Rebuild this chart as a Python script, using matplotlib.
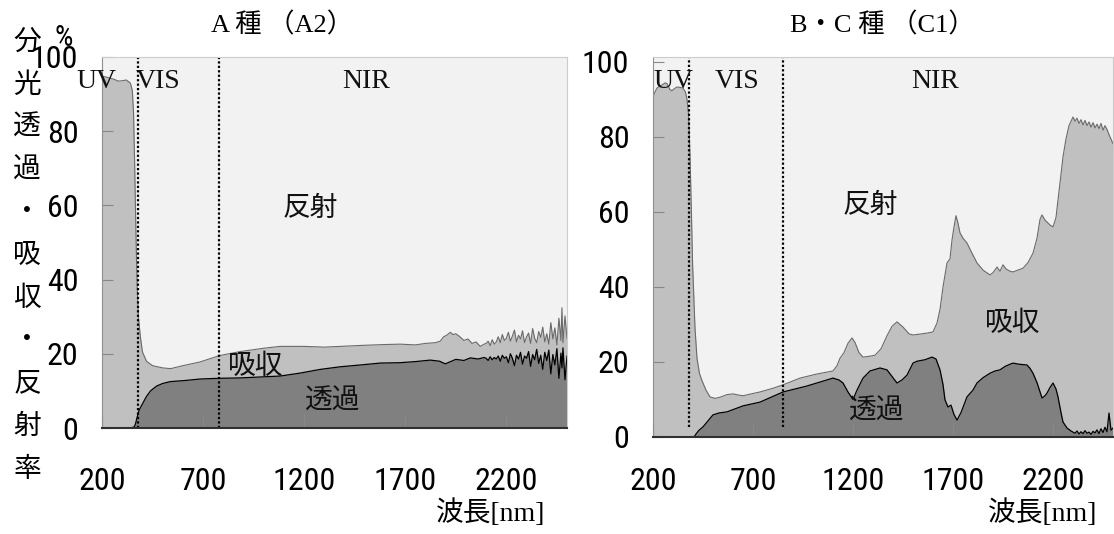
import os
import numpy as np
import matplotlib.pyplot as plt
from matplotlib import font_manager as fm

# ---- data ----
# A2 : upper edge = transmission + absorption, lower edge = transmission
a_wl_up = [200, 220, 240, 260, 280, 300, 320, 340, 350, 356, 362, 368, 374, 380, 390, 400, 420, 450,
           500, 540, 600, 685, 780, 883, 1000, 1081, 1200, 1300, 1378, 1500, 1600, 1675, 1750, 1800,
           1850, 1873, 1890, 1905, 1923, 1935, 1950, 1970, 1990, 2010, 2030, 2050, 2071, 2090,
           2100, 2110, 2120, 2130, 2140, 2150, 2160, 2170, 2180, 2190, 2200, 2210, 2220, 2230, 2240,
           2250, 2260, 2270, 2280, 2290, 2300, 2310, 2320, 2330, 2340, 2350, 2360, 2370, 2380, 2390,
           2400, 2410, 2420, 2430, 2440, 2450, 2460, 2470, 2475, 2480, 2490, 2500]
a_up = [94.8, 94.6, 94.3, 94.0, 93.5, 93.6, 93.8, 93.0, 91.0, 85.0, 70.0, 52.0, 38.0, 30.0, 24.5, 20.5,
        18.0, 16.8, 16.2, 16.0, 16.8, 17.8, 19.5, 20.6, 21.5, 22.0, 22.0, 21.8, 22.0, 22.3, 22.5, 22.6,
        22.4, 22.8, 23.0, 23.4, 24.6, 25.0, 25.8, 25.2, 25.4, 24.6, 23.6, 24.0, 22.8, 23.2, 22.0, 22.6,
        22.8, 23.4, 22.2, 23.8, 22.6, 23.2, 24.6, 23.0, 25.2, 23.6, 24.2, 25.8, 23.4, 24.8, 26.4,
        23.2, 25.0, 24.0, 26.2, 23.0, 24.6, 25.6, 22.8, 26.8, 24.2, 23.0, 26.0, 24.4, 27.2, 23.2,
        25.4, 22.6, 28.4, 24.0, 27.0, 22.4, 29.6, 23.6, 32.4, 23.0, 30.2, 24.2]

a_wl_lo = [200, 340, 360, 366, 372, 378, 385, 395, 403, 420, 440, 470, 500, 537, 610, 685, 780, 883,
           1000, 1081, 1180, 1280, 1378, 1480, 1576, 1675, 1750, 1824, 1870, 1898, 1920, 1950, 1990,
           2022, 2060, 2090,
           2100, 2110, 2120, 2130, 2140, 2150, 2160, 2170, 2180, 2190, 2200, 2210, 2220, 2230, 2240,
           2250, 2260, 2270, 2280, 2290, 2300, 2310, 2320, 2330, 2340, 2350, 2360, 2370, 2380, 2390,
           2400, 2410, 2420, 2430, 2440, 2450, 2460, 2470, 2475, 2480, 2490, 2500]
a_lo = [0, 0, 0.3, 1.2, 2.5, 3.8, 5.0, 6.0, 6.8, 8.5, 10.0, 11.3, 12.0, 12.5, 12.8, 13.2, 13.4, 13.5,
        13.8, 14.0, 14.8, 15.8, 16.5, 17.0, 17.5, 17.6, 17.9, 18.3, 18.0, 17.3, 17.8, 18.5, 18.2,
        18.9, 18.6, 19.0,
        18.8, 18.2, 19.2, 18.4, 19.0, 18.6, 19.4, 18.0, 19.6, 18.8, 19.2, 17.6, 20.0, 18.8, 16.8,
        19.6, 18.6, 20.4, 17.2, 19.4, 18.8, 20.6, 16.6, 19.8, 18.4, 21.2, 17.4, 19.6, 15.8, 20.4,
        18.2, 21.0, 14.6, 19.8, 17.0, 21.4, 13.4, 20.2, 16.2, 21.6, 13.0, 19.4]

# C1
c_wl_up = [200, 210, 220, 235, 250, 260, 270, 285, 295, 305, 320, 335, 350, 362, 370, 378, 385, 392,
           398, 405, 410, 420, 432, 445, 465, 485, 510, 535, 570, 600, 625, 650, 700, 735, 800, 850,
           935, 1020, 1100, 1120, 1135, 1155, 1175, 1195, 1210, 1230, 1250, 1280, 1310, 1340, 1370,
           1395, 1420, 1450, 1480, 1500, 1530, 1570, 1600, 1620, 1635, 1650, 1670, 1685, 1695, 1705,
           1715, 1725, 1735, 1750, 1770, 1795, 1820, 1850, 1885, 1900, 1920, 1935, 1950, 1965, 1985,
           2000, 2030, 2050, 2075, 2100, 2120, 2135, 2145, 2160, 2170, 2185, 2200, 2215, 2225, 2240,
           2250, 2265, 2280, 2300,
           2310, 2320, 2330, 2340, 2350, 2360, 2370, 2380, 2390, 2400, 2410, 2420, 2430, 2440, 2450,
           2460, 2470, 2480, 2490, 2500]
c_up = [90.7, 92.0, 93.0, 93.6, 94.0, 94.4, 94.2, 92.6, 92.3, 92.8, 93.3, 93.2, 93.0, 92.0, 90.0,
        86.0, 75.0, 60.0, 46.0, 36.0, 29.0, 21.0, 17.0, 15.0, 12.5, 10.7, 10.3, 10.6, 11.3, 11.5,
        11.2, 11.0, 11.6, 12.0, 13.0, 13.9, 15.7, 16.8, 17.6, 19.0, 21.0, 22.5, 25.0, 26.4, 25.2,
        22.5, 21.3, 21.5, 21.8, 23.5, 27.0, 29.5, 30.7, 29.3, 27.5, 27.2, 27.4, 27.7, 28.0, 30.4,
        34.0, 40.0, 46.4, 47.5, 52.5, 56.0, 59.0, 57.0, 54.4, 53.0, 51.7, 49.0, 46.4, 44.5, 43.2,
        43.8, 45.3, 44.2, 45.9, 44.8, 44.2, 44.0, 44.6, 45.0, 46.5, 49.0, 53.0, 58.0, 59.2, 57.8,
        57.3, 56.5, 56.0, 58.5, 63.2, 70.0, 74.7, 79.5, 83.0, 85.3,
        84.2, 85.0, 83.6, 84.6, 83.2, 84.4, 83.0, 84.0, 82.6, 83.8, 82.4, 83.4, 82.2, 83.6, 81.8,
        83.0, 82.0, 80.6, 79.4, 78.2]

c_wl_lo = [200, 405, 415, 430, 450, 475, 500, 530, 570, 610, 650, 735, 850, 970, 1100, 1130, 1150,
           1175, 1200, 1220, 1250, 1285, 1335, 1370, 1400, 1420, 1445, 1470, 1500, 1520, 1560, 1595,
           1615, 1635, 1650, 1660, 1675, 1690, 1705, 1720, 1740, 1770, 1800, 1820, 1850, 1885, 1910,
           1935, 1960, 1985, 2000, 2030, 2070, 2085, 2100, 2120, 2145, 2160, 2170, 2185, 2200, 2215,
           2225, 2240, 2250, 2270, 2290,
           2300, 2310, 2320, 2330, 2340, 2350, 2360, 2370, 2380, 2390, 2400, 2410, 2420, 2430, 2440,
           2450, 2460, 2470, 2480, 2490, 2500]
c_lo = [0, 0, 0.8, 1.8, 2.7, 4.3, 5.9, 6.4, 6.7, 7.5, 8.3, 9.3, 12.0, 13.6, 15.7, 15.2, 14.4, 12.0,
        10.0, 12.5, 15.7, 17.6, 18.4, 17.9, 15.8, 14.4, 15.2, 16.5, 19.7, 20.2, 20.6, 21.3, 20.8,
        17.9, 14.0, 9.9, 8.0, 8.5, 6.0, 4.5, 6.5, 10.7, 12.5, 14.4, 15.8, 17.0, 17.6, 17.9, 18.8,
        19.4, 19.7, 19.4, 19.2, 18.3, 17.0, 14.5, 10.4, 11.0, 11.7, 13.2, 14.4, 12.8, 10.7, 6.5,
        4.0, 2.4, 1.6,
        1.3, 1.0, 1.6, 0.8, 1.4, 0.9, 1.7, 1.0, 1.3, 0.7, 1.5, 1.1, 1.9, 0.9, 2.2, 1.2, 2.6, 1.4,
        6.4, 1.8, 2.4]

xticks = [200, 700, 1200, 1700, 2200]
yticks = [0, 20, 40, 60, 80, 100]
ylabel_chars = list("分光透過・吸収・反射率")

# ---- fonts ----
# the numbers in the reference are a tall, narrow sans; use a condensed face if one is installed
def pick_narrow():
    found = []
    for f in fm.fontManager.ttflist:
        key = (f.name + ' ' + os.path.basename(f.fname)).lower()
        if ('narrow' in key or 'condensed' in key) and 'bold' not in key \
                and 'italic' not in key and 'oblique' not in key and 'serif' not in key \
                and 'mono' not in key and 'light' not in key and 'thin' not in key:
            found.append(f)
    for pref in ('liberation', 'roboto', 'dejavu', 'open', ''):
        for f in found:
            if pref in f.fname.lower():
                return fm.FontProperties(fname=f.fname)
    return fm.FontProperties(family='Roboto')


num_fp = pick_narrow()
jp_font = ['Liberation Serif', 'Noto Sans CJK JP']
C_REF = '#f2f2f2'
C_ABS = '#c0c0c0'
C_TRA = '#808080'

fig = plt.figure(figsize=(11.14, 5.34), dpi=100)
W, H = 1114, 534


def make_ax(left, right, top, bottom):
    return fig.add_axes([left / W, 1 - bottom / H, (right - left) / W, (bottom - top) / H])


def draw_panel(ax, wl_up, up, wl_lo, lo, ytop, vis, nir, vline_bottom, xpad, labels, title, title_x):
    ax.set_facecolor(C_REF)
    ax.fill_between(wl_up, 0, up, color=C_ABS, lw=0)
    ax.plot(wl_up, up, color='#6a6a6a', lw=0.8)
    ax.fill_between(wl_lo, 0, lo, color=C_TRA, lw=0)
    ax.plot(wl_lo, lo, color='black', lw=0.9)
    for v in (vis, nir):
        ax.plot([v, v], [vline_bottom, ytop], color='black', ls=(0, (1, 1)), lw=1.6)
    ax.set_xlim(200, 2500)
    ax.set_ylim(0, ytop)
    ax.set_xticks(xticks)
    ax.set_yticks(yticks)
    ax.tick_params(axis='x', direction='in', length=10, color='#888888', pad=xpad)
    ax.tick_params(axis='y', direction='in', length=8, color='#888888', pad=17)
    for lab in ax.get_xticklabels() + ax.get_yticklabels():
        lab.set_fontproperties(num_fp)
        lab.set_fontsize(23)
    for s in ('top', 'right'):
        ax.spines[s].set_color('#cccccc')
    ax.spines['left'].set_color('#909090')
    ax.spines['bottom'].set_color('#303030')
    ax.spines['bottom'].set_linewidth(1.5)
    for txt, x, y in labels:
        ax.text(x, y, txt, ha='center', va='center', fontsize=20,
                family=jp_font, color='#111111', clip_on=False)
    fig.text(title_x / W, 1 - 25 / H, title, ha='center', va='center', fontsize=19,
             family=jp_font)


ax1 = make_ax(102, 567, 57, 428)
draw_panel(ax1, a_wl_up, a_up, a_wl_lo, a_lo, 100, 380, 780, 0, 28,
           [('UV', 172, 93.5), ('VIS', 475, 93.5), ('NIR', 1505, 93.5),
            ('反射', 1230, 58.8), ('吸収', 962, 16.4), ('透過', 1343, 7.0)],
           'A 種 （A2）', 282)

ax2 = make_ax(653, 1113, 57, 437)
draw_panel(ax2, c_wl_up, c_up, c_wl_lo, c_lo, 101.3, 380, 850, 2.7, 21.5,
           [('UV', 300, 94.7), ('VIS', 620, 94.7), ('NIR', 1610, 94.7),
            ('反射', 1285, 61.5), ('吸収', 2000, 30.1), ('透過', 1320, 6.7)],
           'B・C 種 （C1）', 882)

# y axis label written vertically, one character per line
for i, ch in enumerate(ylabel_chars):
    fig.text(27 / W, 1 - (43 + i * 42.7) / H, ch, ha='center', va='center', fontsize=20,
             family=jp_font)
pct = fig.text(64 / W, 1 - 38 / H, '%', ha='center', va='center')
pct.set_fontproperties(num_fp)
pct.set_fontsize(21)

fig.text(545 / W, 1 - 513 / H, '波長[nm]', ha='right', va='center', fontsize=20, family=jp_font)
fig.text(1097 / W, 1 - 513 / H, '波長[nm]', ha='right', va='center', fontsize=20, family=jp_font)

fig.savefig('out.png', dpi=100)
